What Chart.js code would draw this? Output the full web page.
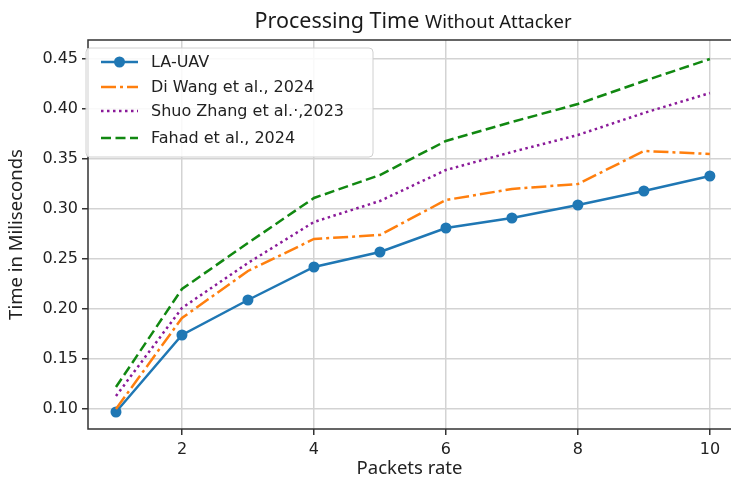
<!DOCTYPE html>
<html>
<head>
<meta charset="utf-8">
<script src="https://cdn.jsdelivr.net/npm/chart.js@4.4.0/dist/chart.umd.min.js"></script>
<style>
  html, body { margin: 0; padding: 0; background: #fff; }
</style>
</head>
<body>
<canvas id="timeChart" width="731" height="479"></canvas>
<script>
'use strict'

/* data */
const packetRates = [1, 2, 3, 4, 5, 6, 7, 8, 9, 10];
const laUav      = [0.097, 0.174, 0.209, 0.242, 0.257, 0.281, 0.291, 0.304, 0.318, 0.333];
const diWang     = [0.100, 0.191, 0.238, 0.270, 0.274, 0.309, 0.320, 0.325, 0.358, 0.355];
const shuoZhang  = [0.113, 0.201, 0.246, 0.287, 0.308, 0.339, 0.357, 0.374, 0.396, 0.416];
const fahad      = [0.122, 0.220, 0.266, 0.311, 0.334, 0.368, 0.387, 0.405, 0.428, 0.450];
const seriesNames = ['LA-UAV', 'Di Wang et al., 2024', 'Shuo Zhang et al.\u00b7,2023', 'Fahad et al., 2024'];
const xTicks = [2, 4, 6, 8, 10];
const yTicks = [0.10, 0.15, 0.20, 0.25, 0.30, 0.35, 0.40, 0.45];

const tickFont = { family: 'DejaVu Sans', size: 16 };
const labelFont = { family: 'Noto Sans', size: 18.5 };
const gridColor = '#d3d3d3';
const frameColor = '#333333';

function points(ys) {
  return packetRates.map((x, i) => ({ x: x, y: ys[i] }));
}

/* title with two font sizes, frame and legend box drawn by hand */
const decorPlugin = {
  id: 'decor',
  afterDraw(chart) {
    const ctx = chart.ctx;
    const area = chart.chartArea;
    ctx.save();

    // frame: left, bottom, top (right side is cut off in the figure)
    ctx.strokeStyle = frameColor;
    ctx.lineWidth = 1.5;
    ctx.beginPath();
    ctx.moveTo(area.right, area.top);
    ctx.lineTo(area.left, area.top);
    ctx.lineTo(area.left, area.bottom);
    ctx.lineTo(area.right, area.bottom);
    ctx.stroke();

    // title
    ctx.fillStyle = '#1a1a1a';
    ctx.textBaseline = 'alphabetic';
    const partA = 'Processing Time ';
    const partB = 'Without Attacker';
    ctx.font = '21.5px "Noto Sans"';
    const wA = ctx.measureText(partA).width;
    ctx.font = '18.5px "Noto Sans"';
    const wB = ctx.measureText(partB).width;
    const tx = 413 - (wA + wB) / 2;
    ctx.font = '21.5px "Noto Sans"';
    ctx.fillText(partA, tx, 28);
    ctx.font = '18.5px "Noto Sans"';
    ctx.fillText(partB, tx + wA, 28);

    // legend
    const bx = 86, by = 48, bw = 287, bh = 109;
    ctx.beginPath();
    ctx.roundRect(bx, by, bw, bh, 4);
    ctx.fillStyle = 'rgba(255,255,255,0.85)';
    ctx.fill();
    ctx.strokeStyle = '#d0d0d0';
    ctx.lineWidth = 1;
    ctx.stroke();

    const rows = [62, 87, 111, 138];
    chart.data.datasets.forEach((ds, i) => {
      const yy = rows[i];
      ctx.beginPath();
      ctx.setLineDash(ds.borderDash || []);
      ctx.strokeStyle = ds.borderColor;
      ctx.lineWidth = ds.borderWidth;
      ctx.moveTo(101, yy);
      ctx.lineTo(138, yy);
      ctx.stroke();
      ctx.setLineDash([]);
      if (ds.pointRadius > 0) {
        ctx.beginPath();
        ctx.arc(119.5, yy, ds.pointRadius, 0, Math.PI * 2);
        ctx.fillStyle = ds.pointBackgroundColor;
        ctx.fill();
      }
      ctx.fillStyle = '#222';
      ctx.font = '16px "DejaVu Sans"';
      ctx.textBaseline = 'middle';
      ctx.fillText(ds.label, 151, yy + 1);
    });
    ctx.restore();
  }
};

const ctx = document.getElementById('timeChart').getContext('2d');

const config = {
  type: 'line',
  data: {
    datasets: [{
      label: seriesNames[0],
      data: points(laUav),
      borderColor: '#1f77b4',
      backgroundColor: '#1f77b4',
      pointBackgroundColor: '#1f77b4',
      pointBorderWidth: 0,
      pointRadius: 5.5,
      borderWidth: 2.5,
      order: 4
    }, {
      label: seriesNames[1],
      data: points(diWang),
      borderColor: '#ff7f0e',
      borderDash: [15, 4, 3, 4],
      pointRadius: 0,
      borderWidth: 2.5,
      order: 3
    }, {
      label: seriesNames[2],
      data: points(shuoZhang),
      borderColor: '#8a1a99',
      borderDash: [2.5, 3.5],
      pointRadius: 0,
      borderWidth: 2.5,
      order: 2
    }, {
      label: seriesNames[3],
      data: points(fahad),
      borderColor: '#118811',
      borderDash: [10, 4.5],
      pointRadius: 0,
      borderWidth: 2.5,
      order: 1
    }]
  },
  options: {
    responsive: false,
    animation: false,
    layout: { autoPadding: false, padding: { top: 40, right: 0, left: 0, bottom: 0 } },
    plugins: {
      legend: { display: false },
      title: { display: false },
      tooltip: { enabled: false }
    },
    scales: {
      x: {
        type: 'linear',
        min: 0.576,
        max: 10.32,
        afterFit: s => { s.height = 50; s.paddingRight = 0; },
        afterBuildTicks: s => { s.ticks = xTicks.map(v => ({ value: v })); },
        ticks: { font: tickFont, color: '#222', padding: 5, maxRotation: 0 },
        grid: { color: gridColor, lineWidth: 1.5, tickColor: frameColor, tickLength: 6 },
        border: { display: false },
        title: { display: true, text: 'Packets rate', font: labelFont, color: '#222', padding: { top: 0, bottom: -1 } }
      },
      y: {
        min: 0.080,
        max: 0.469,
        afterFit: s => { s.width = 88; },
        afterBuildTicks: s => { s.ticks = yTicks.map(v => ({ value: v })); },
        ticks: { font: tickFont, color: '#222', padding: 4, callback: v => Number(v).toFixed(2) },
        grid: { color: gridColor, lineWidth: 1.5, tickColor: frameColor, tickLength: 6 },
        border: { display: false },
        title: { display: true, text: 'Time in Miliseconds', font: labelFont, color: '#222', padding: { top: 6, bottom: 0 } }
      }
    }
  },
  plugins: [decorPlugin]
};

const chart = new Chart(ctx, config);
</script>
</body>
</html>
